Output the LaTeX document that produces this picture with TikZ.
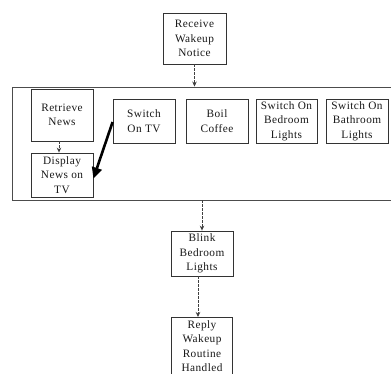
\documentclass[tikz,border=0pt]{standalone}
\usepackage{fontspec}
\setmainfont{Liberation Serif}[LetterSpace=4]
\usetikzlibrary{arrows.meta}
\begin{document}
\begin{tikzpicture}[x=1pt,y=-1pt,
  box/.style={draw=black!80, line width=0.8pt, inner sep=0pt, align=center,
    font=\fontsize{11.3}{14.5}\selectfont, text=black!90},
  dasharrow/.style={draw=black!75, line width=0.7pt, dash pattern=on 2.5pt off 1.5pt,
    -{Stealth[length=5pt,width=4.5pt]}},
  bigarrow/.style={draw=black, line width=2.6pt, -{Triangle[length=11pt,width=10pt]}}]
\useasboundingbox (0,0) rectangle (391,374);
\clip (0,0) rectangle (391,374);
\fill[white] (0,0) rectangle (391,374);
% container
\node[draw=black!70, line width=0.9pt, minimum width=388pt, minimum height=113pt, inner sep=0pt] (cont) at (206,143.5) {};
% boxes
\node[box, minimum width=63pt, minimum height=51pt] (recv) at (194.5,38.5) {Receive\\Wakeup\\Notice};
\node[box, minimum width=62pt, minimum height=52pt] (retr) at (62,115) {Retrieve\\News};
\node[box, minimum width=62pt, minimum height=44pt] (disp) at (62,175) {Display\\News on\\TV};
\node[box, minimum width=62pt, minimum height=44pt] (tv) at (144,121) {Switch\\On TV};
\node[box, minimum width=62pt, minimum height=44pt] (coffee) at (217,121) {Boil\\Coffee};
\node[box, minimum width=61pt, minimum height=44pt] (bed) at (286.5,121) {Switch On\\Bedroom\\Lights};
\node[box, minimum width=62pt, minimum height=44pt] (bath) at (357,121) {Switch On\\Bathroom\\Lights};
\node[box, minimum width=62pt, minimum height=45pt] (blink) at (202,253.5) {Blink\\Bedroom\\Lights};
\node[box, minimum width=61pt, minimum height=64pt, anchor=north] (reply) at (202,317) {};
\node[box, draw=none, anchor=north] (replytext) at ([yshift=-3pt]reply.north) {Reply\\Wakeup\\Routine\\Handled};
% connectors
\draw[dasharrow] (recv.south) -- (recv.south |- cont.north);
\draw[dasharrow] ([xshift=-3pt]retr.south) -- ([xshift=-3pt]disp.north);
\draw[bigarrow] ([yshift=-1pt]tv.west) -- ([yshift=-3.5pt]disp.east);
\draw[dasharrow] (blink.north |- cont.south) -- (blink.north);
\draw[dasharrow] ([xshift=-4pt]blink.south) -- ([xshift=-4pt]reply.north);
\end{tikzpicture}
\end{document}
